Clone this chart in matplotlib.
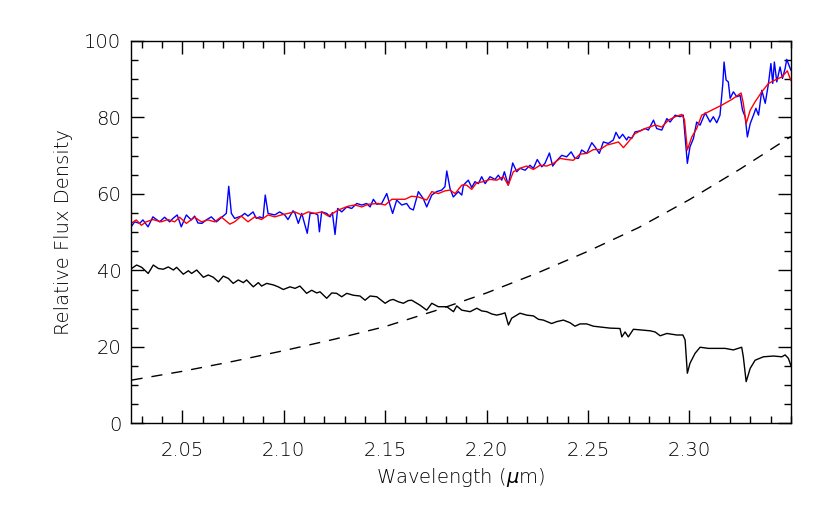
import numpy as np
import matplotlib
matplotlib.use("Agg")
import matplotlib.pyplot as plt
from matplotlib.ticker import MultipleLocator, FixedLocator

# observed spectrum (blue)
obs_wave = [2.0248, 2.0265, 2.0290, 2.0306, 2.0331, 2.0355, 2.0388, 2.0413, 2.0438, 2.0454,
            2.0475, 2.0495, 2.0520, 2.0544, 2.0561, 2.0577, 2.0597, 2.0618, 2.0643, 2.0668,
            2.0701, 2.0717, 2.0729, 2.0742, 2.0758, 2.0791, 2.0808, 2.0824, 2.0849, 2.0865,
            2.0882, 2.0898, 2.0909, 2.0923, 2.0956, 2.0980, 2.1005, 2.1021, 2.1046, 2.1056,
            2.1072, 2.1089, 2.1116, 2.1130, 2.1154, 2.1168, 2.1176, 2.1187, 2.1212, 2.1228,
            2.1240, 2.1253, 2.1266, 2.1286, 2.1311, 2.1335, 2.1360, 2.1385, 2.1409, 2.1426,
            2.1442, 2.1459, 2.1483, 2.1508, 2.1524, 2.1537, 2.1557, 2.1582, 2.1606, 2.1623,
            2.1639, 2.1664, 2.1688, 2.1705, 2.1730, 2.1754, 2.1779, 2.1795, 2.1804, 2.1820,
            2.1836, 2.1861, 2.1878, 2.1886, 2.1910, 2.1927, 2.1943, 2.1960, 2.1976, 2.1993,
            2.2017, 2.2042, 2.2058, 2.2075, 2.2088, 2.2107, 2.2129, 2.2149, 2.2165, 2.2190,
            2.2214, 2.2231, 2.2250, 2.2272, 2.2288, 2.2310, 2.2326, 2.2346, 2.2371, 2.2395,
            2.2417, 2.2436, 2.2453, 2.2469, 2.2494, 2.2519, 2.2535, 2.2556, 2.2576, 2.2600,
            2.2625, 2.2638, 2.2655, 2.2671, 2.2691, 2.2699, 2.2716, 2.2732, 2.2757, 2.2782,
            2.2798, 2.2823, 2.2839, 2.2864, 2.2889, 2.2905, 2.2930, 2.2954, 2.2970, 2.2979,
            2.2990, 2.3003, 2.3020, 2.3036, 2.3053, 2.3078, 2.3102, 2.3118, 2.3135, 2.3151,
            2.3165, 2.3171, 2.3181, 2.3192, 2.3201, 2.3217, 2.3234, 2.3250, 2.3262, 2.3275,
            2.3286, 2.3300, 2.3316, 2.3328, 2.3341, 2.3357, 2.3374, 2.3390, 2.3402, 2.3411,
            2.3419, 2.3431, 2.3447, 2.3459, 2.3472, 2.3480, 2.3491, 2.3500]
obs_flux = [51.4, 52.7, 52.3, 53.2, 51.4, 54.0, 52.7, 53.9, 52.7, 53.6,
            54.5, 51.4, 54.5, 53.2, 54.2, 52.4, 52.3, 53.2, 54.0, 52.7,
            54.2, 54.9, 62.0, 54.9, 53.6, 54.2, 54.9, 54.2, 55.3, 53.6,
            54.0, 53.6, 59.7, 54.9, 54.5, 55.3, 54.5, 53.3, 55.6, 54.9,
            52.3, 54.9, 49.7, 54.9, 54.9, 54.5, 50.1, 55.3, 54.9, 54.0,
            55.1, 49.4, 56.2, 55.3, 56.6, 56.2, 57.5, 57.1, 57.5, 56.6,
            58.6, 57.3, 57.5, 60.1, 57.1, 54.9, 58.4, 57.1, 57.5, 56.2,
            55.8, 60.6, 58.8, 56.6, 59.7, 60.6, 61.0, 61.9, 66.0, 61.4,
            59.2, 60.6, 59.7, 62.3, 63.6, 61.7, 63.2, 62.7, 64.5, 62.7,
            64.5, 63.8, 64.9, 63.6, 65.8, 62.3, 68.1, 65.8, 66.7, 66.2,
            67.5, 66.7, 69.0, 67.1, 68.0, 70.7, 67.3, 68.7, 70.1, 69.7,
            71.0, 69.3, 69.3, 71.5, 70.6, 73.4, 72.3, 70.6, 73.6, 73.2,
            74.1, 76.1, 74.5, 75.6, 74.1, 74.9, 74.5, 76.2, 76.5, 77.1,
            76.7, 79.3, 77.1, 76.7, 79.7, 78.8, 80.6, 80.2, 80.6, 74.9,
            68.0, 72.3, 74.5, 78.8, 78.0, 81.2, 78.8, 80.2, 78.6, 80.6,
            88.9, 94.5, 89.8, 89.3, 85.0, 86.7, 85.4, 85.8, 81.9, 80.2,
            74.9, 78.4, 80.6, 82.4, 80.6, 87.1, 83.7, 88.9, 94.1, 88.9,
            94.5, 89.3, 93.2, 90.2, 92.8, 95.2, 93.7, 92.4]

# model fit (red)
model_wave = [2.0248, 2.0273, 2.0298, 2.0322, 2.0355, 2.0396, 2.0429, 2.0462, 2.0487, 2.0520,
              2.0561, 2.0594, 2.0627, 2.0660, 2.0692, 2.0734, 2.0758, 2.0791, 2.0824, 2.0857,
              2.0890, 2.0923, 2.0956, 2.0988, 2.1021, 2.1054, 2.1089, 2.1121, 2.1154, 2.1187,
              2.1220, 2.1269, 2.1318, 2.1352, 2.1385, 2.1417, 2.1467, 2.1500, 2.1533, 2.1565,
              2.1598, 2.1631, 2.1664, 2.1705, 2.1730, 2.1762, 2.1795, 2.1820, 2.1845, 2.1878,
              2.1902, 2.1927, 2.1951, 2.1984, 2.2017, 2.2050, 2.2083, 2.2107, 2.2132, 2.2165,
              2.2198, 2.2231, 2.2264, 2.2297, 2.2330, 2.2363, 2.2395, 2.2428, 2.2461, 2.2494,
              2.2527, 2.2560, 2.2593, 2.2625, 2.2650, 2.2675, 2.2699, 2.2732, 2.2782, 2.2831,
              2.2864, 2.2897, 2.2930, 2.2963, 2.2976, 2.2990, 2.3012, 2.3036, 2.3061, 2.3110,
              2.3159, 2.3209, 2.3255, 2.3266, 2.3280, 2.3300, 2.3324, 2.3357, 2.3390, 2.3423,
              2.3456, 2.3483, 2.3500]
model_flux = [52.3, 53.2, 51.8, 52.7, 53.3, 52.7, 53.3, 52.7, 53.9, 52.3,
              53.9, 52.7, 53.2, 52.7, 54.0, 52.1, 52.7, 54.2, 52.7, 54.0,
              53.3, 54.5, 54.0, 54.5, 54.9, 55.3, 54.5, 55.3, 54.9, 55.3,
              54.2, 55.8, 56.8, 57.1, 56.6, 57.3, 57.5, 57.1, 58.6, 58.6,
              58.6, 59.4, 59.2, 58.4, 60.6, 60.1, 60.8, 61.0, 60.1, 62.3,
              62.3, 61.2, 62.9, 63.2, 63.8, 63.6, 64.5, 62.3, 65.8, 66.7,
              67.3, 66.4, 67.5, 67.3, 68.0, 69.3, 69.0, 68.8, 70.4, 70.6,
              71.6, 71.6, 72.8, 73.2, 73.6, 72.1, 73.6, 75.8, 77.1, 78.0,
              77.5, 79.3, 80.2, 80.8, 79.3, 71.5, 74.9, 77.1, 80.6, 81.9,
              83.2, 84.7, 86.4, 83.7, 78.4, 81.9, 84.1, 86.7, 88.9, 89.8,
              90.6, 92.2, 89.7]

# template spectrum (black)
temp_wave = [2.0250, 2.0275, 2.0300, 2.0332, 2.0357, 2.0382, 2.0406, 2.0431, 2.0456, 2.0472,
             2.0505, 2.0530, 2.0546, 2.0571, 2.0604, 2.0628, 2.0653, 2.0678, 2.0702, 2.0727,
             2.0751, 2.0776, 2.0801, 2.0817, 2.0850, 2.0875, 2.0891, 2.0916, 2.0949, 2.0973,
             2.0998, 2.1031, 2.1056, 2.1080, 2.1113, 2.1138, 2.1163, 2.1179, 2.1212, 2.1237,
             2.1261, 2.1286, 2.1311, 2.1343, 2.1376, 2.1401, 2.1426, 2.1459, 2.1500, 2.1524,
             2.1540, 2.1565, 2.1590, 2.1614, 2.1631, 2.1672, 2.1705, 2.1730, 2.1762, 2.1804,
             2.1837, 2.1853, 2.1878, 2.1919, 2.1952, 2.1976, 2.2001, 2.2026, 2.2050, 2.2075,
             2.2091, 2.2108, 2.2124, 2.2165, 2.2198, 2.2231, 2.2256, 2.2280, 2.2321, 2.2346,
             2.2379, 2.2412, 2.2436, 2.2461, 2.2494, 2.2527, 2.2576, 2.2609, 2.2658, 2.2667,
             2.2683, 2.2699, 2.2724, 2.2765, 2.2806, 2.2831, 2.2856, 2.2889, 2.2938, 2.2968,
             2.2979, 2.2990, 2.3003, 2.3028, 2.3053, 2.3094, 2.3135, 2.3176, 2.3217, 2.3258,
             2.3266, 2.3280, 2.3300, 2.3324, 2.3365, 2.3415, 2.3456, 2.3472, 2.3488, 2.3500]
temp_flux = [40.5, 41.4, 40.8, 39.2, 41.4, 40.5, 40.3, 40.9, 40.1, 40.8,
             39.0, 39.9, 39.2, 40.1, 38.2, 38.8, 38.2, 37.0, 38.5, 37.9,
             36.6, 37.5, 36.8, 37.5, 35.7, 36.8, 35.9, 36.6, 36.2, 35.7,
             35.0, 35.7, 35.3, 35.9, 34.0, 34.8, 34.1, 34.4, 32.7, 34.1,
             34.0, 33.1, 34.0, 33.5, 33.3, 32.2, 33.3, 33.1, 31.4, 32.2,
             32.4, 31.8, 31.4, 32.1, 32.2, 30.9, 29.6, 31.4, 30.5, 30.5,
             29.2, 30.7, 29.6, 29.2, 30.1, 29.4, 29.2, 28.6, 28.3, 28.6,
             28.9, 25.7, 27.5, 28.8, 28.3, 28.1, 27.2, 27.0, 26.1, 26.6,
             27.0, 26.3, 25.4, 26.0, 26.0, 25.4, 25.1, 24.9, 24.8, 22.6,
             23.9, 22.6, 24.6, 24.4, 24.2, 23.9, 22.9, 23.5, 23.1, 23.1,
             21.8, 13.1, 15.7, 18.3, 19.9, 19.6, 19.6, 19.6, 19.2, 19.9,
             17.4, 10.9, 14.4, 16.5, 17.4, 17.6, 17.4, 17.9, 17.0, 15.2]

# smooth continuum (dashed)
cont_wave = [2.025, 2.050, 2.075, 2.100, 2.125, 2.150, 2.175, 2.200, 2.225, 2.250,
             2.275, 2.300, 2.325, 2.350]
cont_flux = [11.3, 13.6, 16.2, 19.0, 22.0, 25.3, 29.5, 34.1, 39.3, 45.0,
             51.2, 58.5, 66.5, 75.0]

xticks = [2.05, 2.10, 2.15, 2.20, 2.25, 2.30]
yticks = [0, 20, 40, 60, 80, 100]

plt.rcParams['font.family'] = ['DejaVu Sans']

fig = plt.figure(figsize=(8.3, 5.08), dpi=100)
ax = fig.add_axes([0.1578, 0.1667, 0.953 - 0.1578, 0.9193 - 0.1667])

ax.plot(obs_wave, obs_flux, color='blue', lw=1.0)
ax.plot(model_wave, model_flux, color='red', lw=1.0)
ax.plot(temp_wave, temp_flux, color='black', lw=1.0)
ax.plot(cont_wave, cont_flux, color='black', lw=1.0, linestyle=(0, (8, 6.5)))

ax.set_xlim(2.0247, 2.3501)
ax.set_ylim(0, 100)

ax.xaxis.set_major_locator(FixedLocator(xticks))
ax.xaxis.set_minor_locator(MultipleLocator(0.01))
ax.yaxis.set_major_locator(FixedLocator(yticks))
ax.yaxis.set_minor_locator(MultipleLocator(5))
ax.xaxis.set_major_formatter(plt.FormatStrFormatter('%.2f'))

ax.tick_params(which='both', direction='in', top=True, right=True, width=1.0,
               colors='black', labelcolor='black')
ax.tick_params(which='major', length=9.5, labelsize=14)
ax.tick_params(axis='x', which='major', pad=13)
ax.tick_params(axis='y', which='major', pad=7)
ax.tick_params(which='minor', length=5)
for s in ax.spines.values():
    s.set_linewidth(1.0)

for lab in ax.get_xticklabels() + ax.get_yticklabels():
    lab.set_fontweight('light')

ax.set_xlabel(r'Wavelength ($\mu$m)', fontsize=14, fontweight='light', labelpad=4)
ax.set_ylabel('Relative Flux Density', fontsize=14, fontweight='light', labelpad=8)

fig.savefig('out.png', dpi=100)
